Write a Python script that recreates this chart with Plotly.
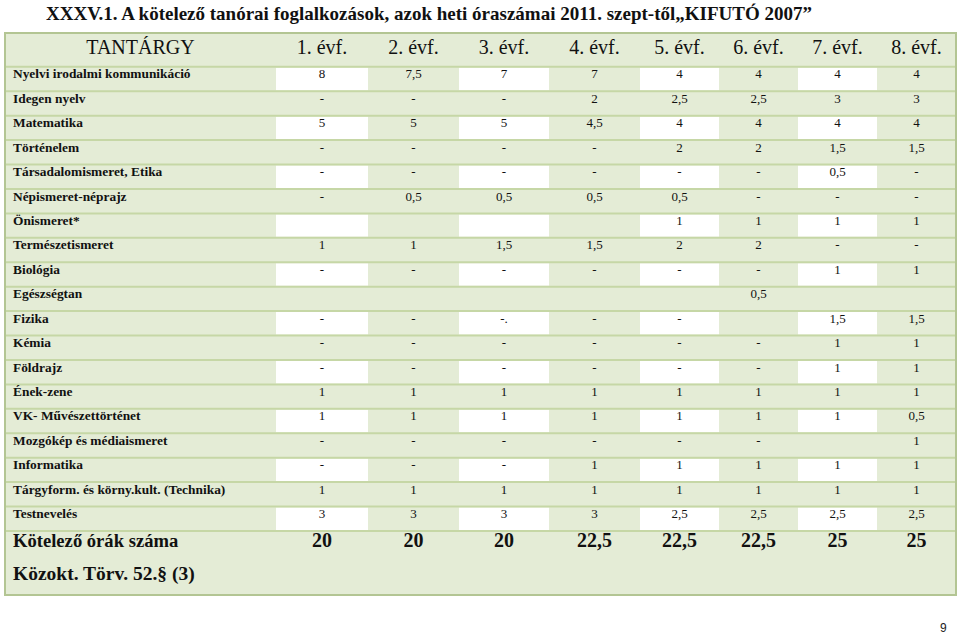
import plotly.graph_objects as go

# ---------------- data ----------------
title_text = "XXXV.1. A kötelező tanórai foglalkozások, azok heti óraszámai 2011. szept-től„KIFUTÓ 2007”"
header_subject = "TANTÁRGY"
grades = ["1. évf.", "2. évf.", "3. évf.", "4. évf.", "5. évf.", "6. évf.", "7. évf.", "8. évf."]
subjects = [
    "Nyelvi irodalmi kommunikáció", "Idegen nyelv", "Matematika", "Történelem",
    "Társadalomismeret, Etika", "Népismeret-néprajz", "Önismeret*", "Természetismeret",
    "Biológia", "Egészségtan", "Fizika", "Kémia", "Földrajz", "Ének-zene",
    "VK- Művészettörténet", "Mozgókép és médiaismeret", "Informatika",
    "Tárgyform. és körny.kult. (Technika)", "Testnevelés",
]
evf1 = ["8", "-", "5", "-", "-", "-", "", "1", "-", "", "-", "-", "-", "1", "1", "-", "-", "1", "3"]
evf2 = ["7,5", "-", "5", "-", "-", "0,5", "", "1", "-", "", "-", "-", "-", "1", "1", "-", "-", "1", "3"]
evf3 = ["7", "-", "5", "-", "-", "0,5", "", "1,5", "-", "", "-.", "-", "-", "1", "1", "-", "-", "1", "3"]
evf4 = ["7", "2", "4,5", "-", "-", "0,5", "", "1,5", "-", "", "-", "-", "-", "1", "1", "-", "1", "1", "3"]
evf5 = ["4", "2,5", "4", "2", "-", "0,5", "1", "2", "-", "", "-", "-", "-", "1", "1", "-", "1", "1", "2,5"]
evf6 = ["4", "2,5", "4", "2", "-", "-", "1", "2", "-", "0,5", "", "-", "-", "1", "1", "-", "1", "1", "2,5"]
evf7 = ["4", "3", "4", "1,5", "0,5", "-", "1", "-", "1", "", "1,5", "1", "1", "1", "1", "", "1", "1", "2,5"]
evf8 = ["4", "3", "4", "1,5", "-", "-", "1", "-", "1", "", "1,5", "1", "1", "1", "0,5", "1", "1", "1", "2,5"]
total_label = "Kötelező órák száma"
totals = ["20", "20", "20", "22,5", "22,5", "22,5", "25", "25"]
footnote = "Közokt. Törv. 52.§ (3)"
page_number = "9"

columns = [evf1, evf2, evf3, evf4, evf5, evf6, evf7, evf8]

# ---------------- layout constants ----------------
W, H = 960, 634
X_EDGES = [5, 276, 368, 459, 549, 640, 719, 798, 877, 956]
TABLE_TOP = 33
ROW_TOP = 66.8
ROW_H = 24.43
TABLE_BOTTOM = 595
TEXT_DY = 8.3
NAME_X = 13

GREEN = "#E4ECD6"
SEP = "#C6D7A6"
BORDER = "#B3C593"
WHITE = "#FFFFFF"
INK = "#111111"
SERIF = "Liberation Serif"

n = len(subjects)
col_centers = [(X_EDGES[i + 1] + X_EDGES[i + 2]) / 2 for i in range(len(grades))]
row_bounds = [ROW_TOP + i * ROW_H for i in range(n + 1)]
row_text_y = [row_bounds[i] + TEXT_DY for i in range(n)]

shapes = []
# table background
shapes.append(dict(type="rect", xref="x", yref="y", x0=X_EDGES[0], x1=X_EDGES[-1],
                   y0=TABLE_TOP, y1=TABLE_BOTTOM, fillcolor=GREEN, line=dict(width=0), layer="below"))
# white cells in alternating rows / columns
for r in range(0, n, 2):
    for c in range(0, len(grades), 2):
        shapes.append(dict(type="rect", xref="x", yref="y",
                           x0=X_EDGES[c + 1], x1=X_EDGES[c + 2],
                           y0=row_bounds[r] + 1, y1=row_bounds[r + 1] - 1,
                           fillcolor=WHITE, line=dict(width=0), layer="below"))
# row separators
for b in row_bounds:
    shapes.append(dict(type="line", xref="x", yref="y", x0=X_EDGES[0], x1=X_EDGES[-1],
                       y0=b, y1=b, line=dict(color=SEP, width=2), layer="below"))
# outer border
shapes.append(dict(type="rect", xref="x", yref="y", x0=X_EDGES[0], x1=X_EDGES[-1],
                   y0=TABLE_TOP, y1=TABLE_BOTTOM, fillcolor="rgba(0,0,0,0)",
                   line=dict(color=BORDER, width=2), layer="below"))

fig = go.Figure()

# header
header_y = (TABLE_TOP + ROW_TOP) / 2 - 1
fig.add_trace(go.Scatter(
    x=[(X_EDGES[0] + X_EDGES[1]) / 2] + col_centers,
    y=[header_y] * (len(grades) + 1),
    text=[header_subject] + grades, mode="text", textposition="middle center",
    textfont=dict(family=SERIF, size=20, color=INK, weight="normal"),
    hoverinfo="skip", showlegend=False))

# subject names
fig.add_trace(go.Scatter(
    x=[NAME_X] * n, y=row_text_y, text=subjects, mode="text",
    textposition="middle right",
    textfont=dict(family=SERIF, size=13.4, color=INK, weight="bold"),
    hoverinfo="skip", showlegend=False))

# values
for c, vals in enumerate(columns):
    fig.add_trace(go.Scatter(
        x=[col_centers[c]] * n, y=row_text_y, text=vals, mode="text",
        textposition="middle center",
        textfont=dict(family=SERIF, size=13, color=INK),
        hoverinfo="skip", showlegend=False))

# totals block
total_y = row_bounds[-1] + 11.5
foot_y = row_bounds[-1] + 44
fig.add_trace(go.Scatter(
    x=[NAME_X], y=[total_y], text=[total_label], mode="text",
    textposition="middle right",
    textfont=dict(family=SERIF, size=18.6, color=INK, weight="bold"),
    hoverinfo="skip", showlegend=False))
fig.add_trace(go.Scatter(
    x=[NAME_X], y=[foot_y], text=[footnote], mode="text",
    textposition="middle right",
    textfont=dict(family=SERIF, size=19.5, color=INK, weight="bold"),
    hoverinfo="skip", showlegend=False))
fig.add_trace(go.Scatter(
    x=col_centers, y=[total_y] * len(totals), text=totals, mode="text",
    textposition="middle center",
    textfont=dict(family=SERIF, size=20, color=INK, weight="bold"),
    hoverinfo="skip", showlegend=False))

annotations = [
    dict(x=429, y=13, xref="x", yref="y", text=title_text, showarrow=False,
         font=dict(family=SERIF, size=19, color=INK, weight="bold"), xanchor="center", yanchor="middle"),
    dict(x=943, y=628, xref="x", yref="y", text=page_number, showarrow=False,
         font=dict(family="Liberation Sans", size=12, color="#222222"),
         xanchor="center", yanchor="middle"),
]

fig.update_layout(
    width=W, height=H, margin=dict(l=0, r=0, t=0, b=0),
    paper_bgcolor="white", plot_bgcolor="white",
    xaxis=dict(range=[0, W], visible=False, fixedrange=True),
    yaxis=dict(range=[H, 0], visible=False, fixedrange=True),
    shapes=shapes, annotations=annotations, showlegend=False,
)

fig.write_html("out.html", config={"displayModeBar": False},
               post_script="document.body.style.margin='0px';document.body.style.padding='0px';")
